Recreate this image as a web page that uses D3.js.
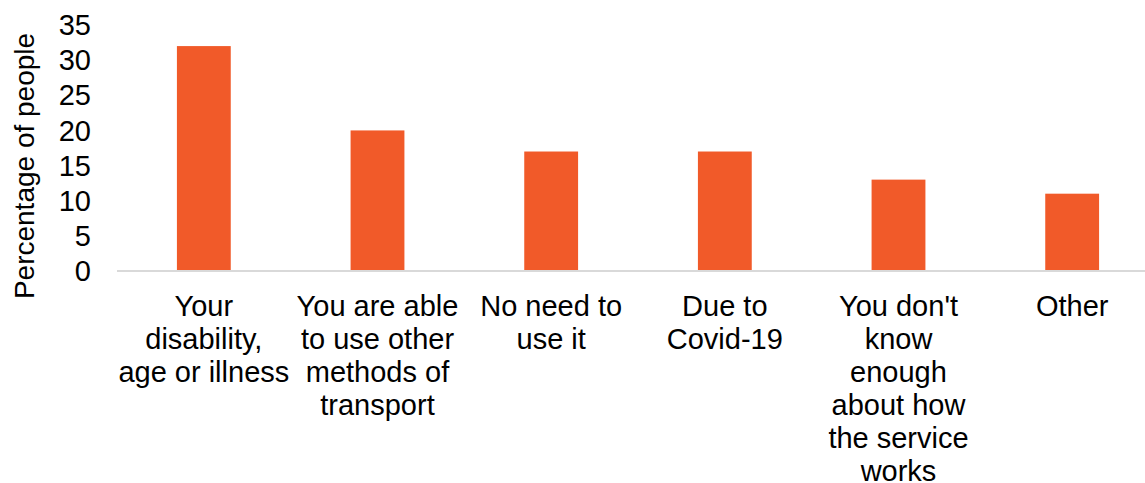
<!DOCTYPE html>
<html>
<head>
<meta charset="utf-8">
<script src="https://cdn.jsdelivr.net/npm/d3@7"></script>
<style>
  body { margin: 0; background: #fff; }
  svg text { font-family: "Liberation Sans", Arial, sans-serif; fill: #000; }
</style>
</head>
<body>
<svg id="chart" width="1145" height="483"></svg>
<script>
// Reasons for not using the service
const categories = [
  ["Your", "disability,", "age or illness"],
  ["You are able", "to use other", "methods of", "transport"],
  ["No need to", "use it"],
  ["Due to", "Covid-19"],
  ["You don't", "know", "enough", "about how", "the service", "works"],
  ["Other"]
];
const values = [32, 20, 17, 17, 13, 11];
const yTicks = [0, 5, 10, 15, 20, 25, 30, 35];
const yTitle = "Percentage of people";

const svg = d3.select("#chart");
const x = d3.scaleBand().domain(d3.range(values.length)).range([117, 1159]).paddingInner(0.69).paddingOuter(0.345);
const y = d3.scaleLinear().domain([0, 35]).range([271, 25]);

// bars
svg.append("g").selectAll("rect").data(values).join("rect")
  .attr("x", (d, i) => x(i))
  .attr("y", d => y(d))
  .attr("width", x.bandwidth())
  .attr("height", d => y(0) - y(d))
  .attr("fill", "#f15a29");

// baseline
svg.append("line")
  .attr("x1", 117).attr("x2", 1159)
  .attr("y1", y(0)).attr("y2", y(0))
  .attr("stroke", "#d9d9d9").attr("stroke-width", 2);

// y axis tick labels
const yAxis = svg.append("g").attr("transform", "translate(91,0)")
  .call(d3.axisLeft(y).tickValues(yTicks).tickSize(0).tickPadding(0));
yAxis.select(".domain").remove();
yAxis.selectAll("text").attr("font-size", 29).attr("dy", "0.33em")
  .style("font-family", "'Liberation Sans', Arial, sans-serif").attr("fill", "#000");

// category labels
svg.append("g").selectAll("text").data(categories).join("text")
  .attr("text-anchor", "middle")
  .attr("font-size", 29)
  .each(function(lines, i) {
    const cx = x(i) + x.bandwidth() / 2;
    d3.select(this).selectAll("tspan").data(lines).join("tspan")
      .attr("x", cx)
      .attr("y", (l, j) => 316 + j * 33)
      .text(l => l);
  });

// y title
svg.append("text")
  .attr("transform", "translate(34,166) rotate(-90)")
  .attr("text-anchor", "middle")
  .attr("font-size", 28)
  .text(yTitle);
</script>
</body>
</html>
